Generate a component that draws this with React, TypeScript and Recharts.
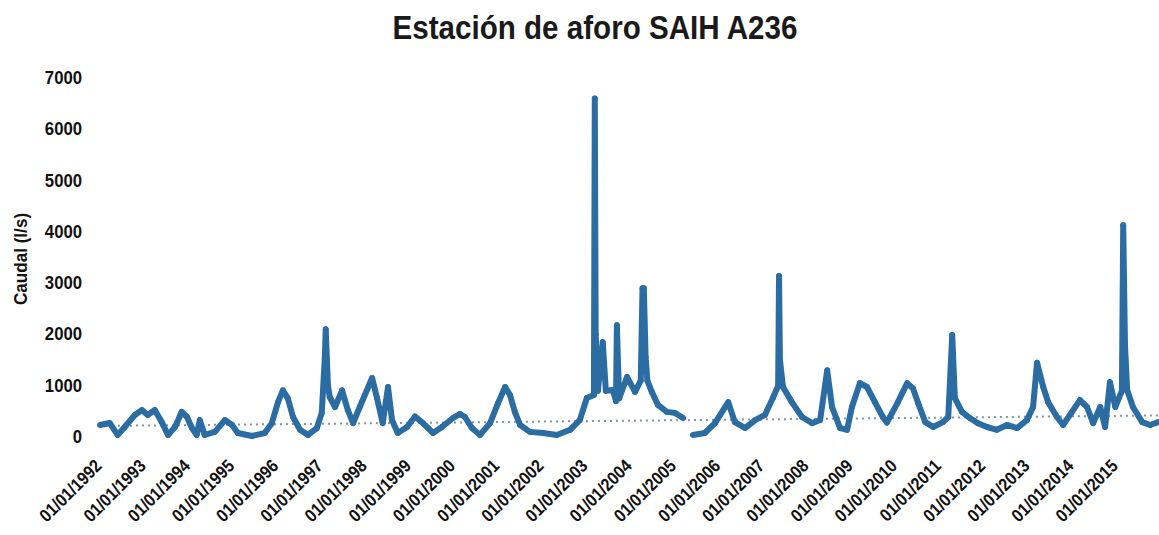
import React from 'react';
import { LineChart, Line, XAxis, YAxis } from 'recharts';

// Fechas en años decimales (1992.0 = 01/01/1992), caudal en l/s
const fechas = [
  1991.98, 1992.2, 1992.38, 1992.54, 1992.77, 1992.93, 1993.06, 1993.22, 1993.38, 1993.52,
  1993.68, 1993.83, 1993.95, 1994.06, 1994.17, 1994.24, 1994.35, 1994.58, 1994.81, 1994.97,
  1995.1, 1995.42, 1995.71, 1995.87, 1996.01, 1996.12, 1996.23, 1996.35, 1996.51, 1996.69,
  1996.89, 1997.0, 1997.07, 1997.09, 1997.14, 1997.18, 1997.3, 1997.46, 1997.59, 1997.71,
  1997.86, 1998.14, 1998.25, 1998.38, 1998.5, 1998.59, 1998.72, 1998.93, 1999.11, 1999.29,
  1999.52, 1999.72, 1999.97, 2000.13, 2000.24, 2000.4, 2000.58, 2000.81, 2000.99, 2001.15,
  2001.26, 2001.37, 2001.49, 2001.71, 2002.01, 2002.32, 2002.62, 2002.84, 2003.0, 2003.16,
  2003.18, 2003.2, 2003.25, 2003.36, 2003.43, 2003.59, 2003.66, 2003.68, 2003.73, 2003.91,
  2004.09, 2004.22, 2004.26, 2004.29, 2004.33, 2004.37, 2004.47, 2004.61, 2004.81, 2004.99,
  2005.18, 2005.29, 2005.4, 2005.67, 2005.9, 2006.2, 2006.35, 2006.58, 2006.81, 2007.03,
  2007.21, 2007.33, 2007.35, 2007.37, 2007.44, 2007.64, 2007.87, 2008.1, 2008.28, 2008.44,
  2008.55, 2008.73, 2008.89, 2009.0, 2009.18, 2009.34, 2009.52, 2009.7, 2009.79, 2009.86,
  2010.04, 2010.25, 2010.38, 2010.5, 2010.66, 2010.84, 2011.06, 2011.18, 2011.27, 2011.33,
  2011.49, 2011.67, 2011.85, 2012.06, 2012.28, 2012.51, 2012.74, 2012.96, 2013.1, 2013.19,
  2013.33, 2013.44, 2013.64, 2013.78, 2013.98, 2014.16, 2014.32, 2014.46, 2014.62, 2014.73,
  2014.84, 2014.96, 2015.11, 2015.14, 2015.18, 2015.23, 2015.36, 2015.57, 2015.75, 2015.93,
];

const caudal: (number | null)[] = [
  234, 273, 40, 195, 430, 525, 430, 525, 290, 40,
  195, 490, 390, 175, 40, 330, 40, 100, 330, 234,
  78, 20, 78, 270, 680, 910, 760, 390, 140, 40,
  175, 470, 1550, 2100, 1000, 780, 585, 910, 525, 270,
  585, 1150, 760, 270, 975, 330, 78, 195, 400, 270,
  78, 195, 370, 450, 390, 175, 40, 270, 660, 975,
  820, 490, 234, 100, 78, 40, 140, 330, 760, 820,
  6600, 2000, 900, 1850, 900, 915, 700, 2180, 750, 1170,
  880, 1100, 2900, 2900, 1560, 1100, 880, 625, 490, 470,
  370, null, 40, 78, 270, 680, 290, 175, 330, 430,
  760, 1000, 3140, 1500, 975, 680, 390, 270, 330, 1300,
  585, 175, 140, 585, 1050, 975, 680, 390, 280, 390,
  680, 1050, 950, 660, 290, 195, 290, 390, 1990, 760,
  490, 370, 270, 195, 140, 234, 175, 330, 585, 1450,
  975, 680, 390, 234, 490, 720, 585, 270, 585, 195,
  1070, 585, 900, 4130, 1800, 915, 585, 290, 234, 290,
];

// Línea de tendencia (punteada)
const tendenciaFechas = [1991.98, 2015.93];
const tendenciaValores = [215, 420];

const anios = [
  1992, 1993, 1994, 1995, 1996, 1997, 1998, 1999, 2000, 2001, 2002, 2003,
  2004, 2005, 2006, 2007, 2008, 2009, 2010, 2011, 2012, 2013, 2014, 2015,
];
const etiquetasX = anios.map(a => `01/01/${a}`);
const ticksY = [0, 1000, 2000, 3000, 4000, 5000, 6000, 7000];

const serie = fechas.map((t, i) => ({ t, caudal: caudal[i] }));
const tendencia = tendenciaFechas.map((t, i) => ({ t, tendencia: tendenciaValores[i] }));

const FONT = '"Liberation Sans", Arial, sans-serif';

const XTick = (props: any) => {
  const { x, y, payload } = props;
  const idx = anios.indexOf(payload.value);
  return (
    <text
      transform={`translate(${x + 2},${y + 22}) rotate(-45) scale(0.88,1)`}
      textAnchor="end"
      fontFamily={FONT}
      fontWeight="bold"
      fontSize={18}
      fill="#111"
    >
      {idx >= 0 ? etiquetasX[idx] : payload.value}
    </text>
  );
};

const YTick = (props: any) => {
  const { x, y, payload } = props;
  return (
    <text
      transform={`translate(${x - 2},${y + 6}) scale(0.88,1)`}
      textAnchor="end"
      fontFamily={FONT}
      fontWeight="bold"
      fontSize={19}
      fill="#111"
    >
      {payload.value}
    </text>
  );
};

const App: React.FC = () => {
  return (
    <div style={{ position: 'absolute', left: 0, top: 0, width: 1159, height: 535, background: '#fff', overflow: 'hidden' }}>
      <div
        style={{
          position: 'absolute',
          left: 0,
          top: 10,
          width: 1190,
          textAlign: 'center',
          fontFamily: FONT,
          fontWeight: 'bold',
          fontSize: 34,
          lineHeight: 1,
          color: '#1a1a1a',
          transform: 'scaleX(0.87)',
          transformOrigin: '595px 0',
        }}
      >
        Estación de aforo SAIH A236
      </div>
      <div
        style={{
          position: 'absolute',
          left: 21,
          top: 259,
          fontFamily: FONT,
          fontWeight: 'bold',
          fontSize: 18,
          lineHeight: 1,
          whiteSpace: 'nowrap',
          color: '#111',
          transform: 'translate(-50%, -50%) rotate(-90deg) scaleX(0.95)',
        }}
      >
        Caudal (l/s)
      </div>
      <LineChart
        width={1159}
        height={535}
        margin={{ top: 78, right: 0, left: 0, bottom: 8 }}
      >
        <XAxis
          dataKey="t"
          type="number"
          domain={[1991.8, 2015.95]}
          ticks={anios}
          interval={0}
          allowDataOverflow
          axisLine={false}
          tickLine={false}
          height={90}
          tick={<XTick />}
        />
        <YAxis
          type="number"
          domain={[0, 7000]}
          ticks={ticksY}
          width={92}
          axisLine={false}
          tickLine={false}
          tick={<YTick />}
        />
        <Line
          data={tendencia}
          dataKey="tendencia"
          stroke="#7f93a8"
          strokeWidth={2}
          strokeDasharray="2 4"
          dot={false}
          isAnimationActive={false}
        />
        <Line
          data={serie}
          dataKey="caudal"
          stroke="#2b6da3"
          strokeWidth={6}
          strokeLinejoin="round"
          dot={{ r: 2.5, fill: '#2b6da3', stroke: '#2b6da3', strokeWidth: 1 }}
          connectNulls={false}
          isAnimationActive={false}
        />
      </LineChart>
    </div>
  );
};

export default App;
